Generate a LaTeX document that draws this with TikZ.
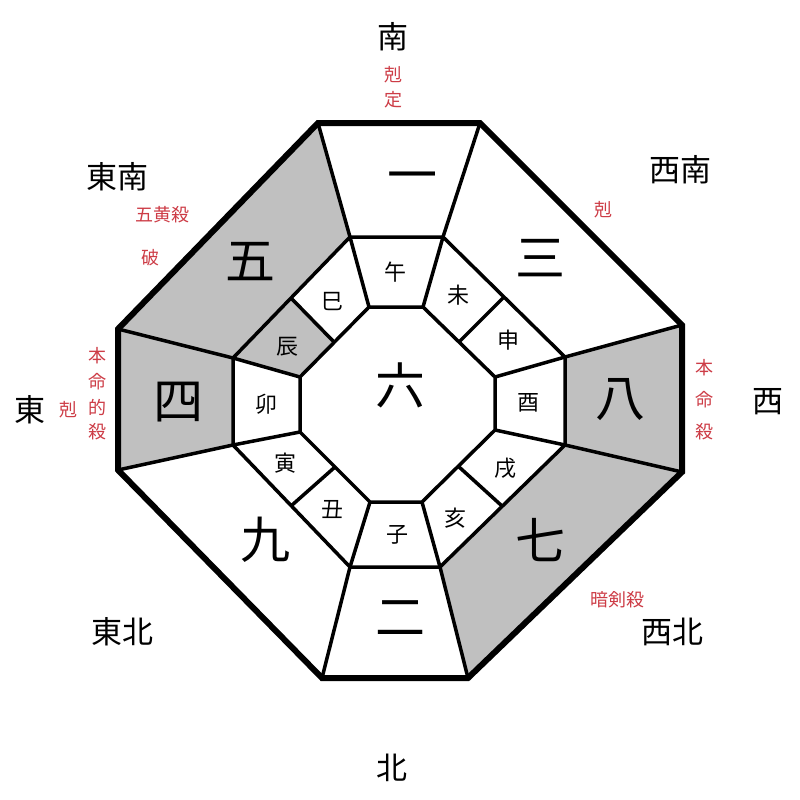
\documentclass[tikz,border=0pt]{standalone}
\usepackage{fontspec}
\newfontfamily\cjk{Noto Sans CJK JP}
\definecolor{redtxt}{RGB}{205,60,70}
\definecolor{cellgray}{RGB}{192,192,192}
\begin{document}
\begin{tikzpicture}[x=1pt,y=-1pt,
  thick border/.style={line width=6pt,line join=miter},
  cellline/.style={line width=3.5pt},
  big/.style={font=\cjk\fontsize{50}{50}\selectfont,inner sep=0},
  zod/.style={font=\cjk\fontsize{22}{22}\selectfont,inner sep=0},
  dir/.style={font=\cjk\fontsize{31}{31}\selectfont,inner sep=0},
  red/.style={font=\cjk\fontsize{18}{18}\selectfont,text=redtxt,inner sep=0}]
\useasboundingbox (0,0) rectangle (800,800);
\fill[white] (0,0) rectangle (800,800);
% outer
\coordinate (O1) at (318,123); \coordinate (O2) at (480,123);
\coordinate (O3) at (682,325); \coordinate (O4) at (682,472);
\coordinate (O5) at (468,678); \coordinate (O6) at (322,678);
\coordinate (O7) at (118,470); \coordinate (O8) at (118,329);
% middle
\coordinate (M1) at (350,237); \coordinate (M2) at (443,237);
\coordinate (M3) at (565,357); \coordinate (M4) at (565,445);
\coordinate (M5) at (440,567); \coordinate (M6) at (350,567);
\coordinate (M7) at (233,445); \coordinate (M8) at (233,358);
\coordinate (MA) at (504,297); \coordinate (MB) at (502,506);
\coordinate (MC) at (291,506); \coordinate (MD) at (291,298);
% inner
\coordinate (I1) at (369,307); \coordinate (I2) at (423,307);
\coordinate (I3) at (495,377); \coordinate (I4) at (495,430);
\coordinate (I5) at (422,502); \coordinate (I6) at (370,502);
\coordinate (I7) at (300,432); \coordinate (I8) at (300,377);
\coordinate (IA) at (459,342); \coordinate (IB) at (458,466);
\coordinate (IC) at (335,467); \coordinate (ID) at (334,342);
% gray cells
\fill[cellgray] (O8)--(O1)--(M1)--(M8)--cycle;
\fill[cellgray] (O7)--(O8)--(M8)--(M7)--cycle;
\fill[cellgray] (M3)--(O3)--(O4)--(M4)--cycle;
\fill[cellgray] (M4)--(O4)--(O5)--(M5)--cycle;
\fill[cellgray] (M8)--(MD)--(ID)--(I8)--cycle;
% lines
\draw[cellline] (M1)--(M2)--(M3)--(M4)--(M5)--(M6)--(M7)--(M8)--cycle;
\draw[cellline] (I1)--(I2)--(I3)--(I4)--(I5)--(I6)--(I7)--(I8)--cycle;
\foreach \k in {1,...,8}{\draw[cellline] (O\k)--(M\k); \draw[cellline] (M\k)--(I\k);}
\foreach \k in {A,B,C,D}{\draw[cellline] (M\k)--(I\k);}
\draw[thick border] (O1)--(O2)--(O3)--(O4)--(O5)--(O6)--(O7)--(O8)--cycle;
% numbers
\node[big] (n1) at (412,183) {一};
\node[big] (n3) at (540,258) {三};
\node[big] (n8) at (620,400) {八};
\node[big] (n7) at (540,540) {七};
\node[big] (n2) at (400,618) {二};
\node[big] (n9) at (265,540) {九};
\node[big] (n4) at (178,402) {四};
\node[big] (n5) at (250,262) {五};
\node[big] (n6) at (400,385) {六};
% zodiac
\node[zod] (z1) at (395,272) {午};
\node[zod] (z2) at (458,295) {未};
\node[zod] (z3) at (508,340) {申};
\node[zod] (z4) at (528,403) {酉};
\node[zod] (z5) at (505,468) {戌};
\node[zod] (z6) at (455,518) {亥};
\node[zod] (z7) at (397,535) {子};
\node[zod] (z8) at (332,510) {丑};
\node[zod] (z9) at (285,463) {寅};
\node[zod] (z10) at (266,404) {卯};
\node[zod] (z11) at (287,347) {辰};
\node[zod] (z12) at (332,302) {巳};
% directions
\node[dir] (d1) at (393,37) {南};
\node[dir] (d2) at (680,170) {西南};
\node[dir] (d3) at (768,402) {西};
\node[dir] (d4) at (672,632) {西北};
\node[dir] (d5) at (392,768) {北};
\node[dir] (d6) at (122,632) {東北};
\node[dir] (d7) at (30,410) {東};
\node[dir] (d8) at (117,177) {東南};
% red labels
\node[red] (r1) at (393,75) {剋};
\node[red] (r2) at (393,100) {定};
\node[red] (r3) at (603,210) {剋};
\node[red] (r4) at (162,215) {五黄殺};
\node[red] (r5) at (150,258) {破};
\node[red] (r6) at (97,356) {本};
\node[red] (r7) at (97,382) {命};
\node[red] (r8) at (97,407) {的};
\node[red] (r9) at (97,432) {殺};
\node[red] (r10) at (68,410) {剋};
\node[red] (r11) at (704,368) {本};
\node[red] (r12) at (704,400) {命};
\node[red] (r13) at (704,432) {殺};
\node[red] (r14) at (617,600) {暗剣殺};
\end{tikzpicture}
\end{document}
